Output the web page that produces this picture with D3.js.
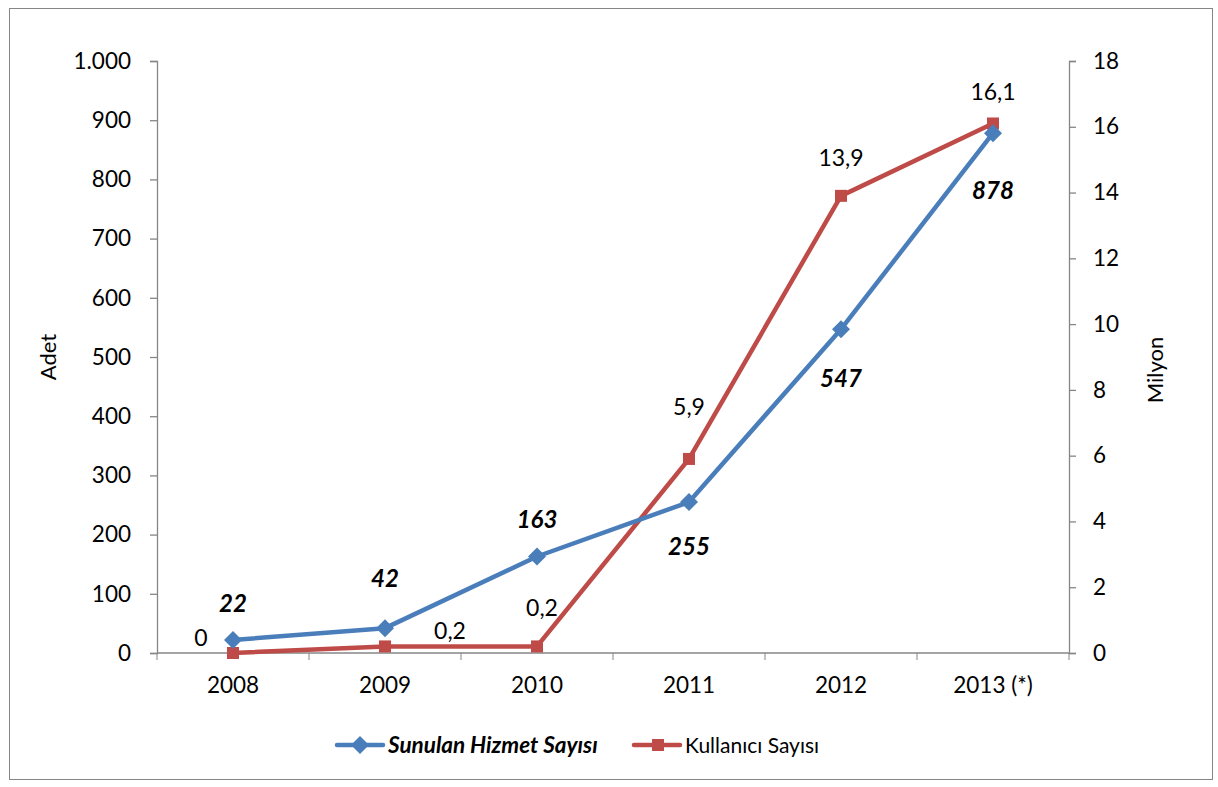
<!DOCTYPE html>
<html>
<head>
<meta charset="utf-8">
<script src="https://cdn.jsdelivr.net/npm/d3@7"></script>
<style>
  body { margin: 0; background: #fff; }
  svg text { font-family: "Lato", "Open Sans", sans-serif; fill: #000; }
</style>
</head>
<body>
<svg id="chart" width="1218" height="787"></svg>
<script>
// Years shown on the category axis
const years = ["2008", "2009", "2010", "2011", "2012", "2013 (*)"];
// Number of services offered (left axis, units)
const serviceCounts = [22, 42, 163, 255, 547, 878];
// Number of users (right axis, millions)
const userCounts = [0, 0.2, 0.2, 5.9, 13.9, 16.1];
const userLabels = ["0", "0,2", "0,2", "5,9", "13,9", "16,1"];
// Axis ticks
const leftTicks = [0, 100, 200, 300, 400, 500, 600, 700, 800, 900, 1000];
const rightTicks = [0, 2, 4, 6, 8, 10, 12, 14, 16, 18];

const svg = d3.select("#chart");
const blue = "#4A7EBB", red = "#BE4B48", axisCol = "#868686";

const plot = { left: 157, right: 1069, top: 61, bottom: 653 };

// Outer frame
svg.append("rect").attr("x", 9.5).attr("y", 8.5).attr("width", 1203).attr("height", 771)
  .attr("fill", "none").attr("stroke", axisCol).attr("stroke-width", 1);

const x = d3.scaleBand().domain(years).range([plot.left, plot.right]).padding(0);
const yL = d3.scaleLinear().domain([0, 1000]).range([plot.bottom, plot.top]);
const yR = d3.scaleLinear().domain([0, 18]).range([plot.bottom, plot.top]);
const cx = d => x(d) + x.bandwidth() / 2;

const fmtThousands = d => d >= 1000 ? d3.format(",")(d).replace(/,/g, ".") : String(d);

// Left axis
const gL = svg.append("g").attr("transform", `translate(${plot.left},0)`)
  .call(d3.axisLeft(yL).tickValues(leftTicks).tickFormat(fmtThousands).tickSize(7).tickPadding(19));
// Right axis
const gR = svg.append("g").attr("transform", `translate(${plot.right},0)`)
  .call(d3.axisRight(yR).tickValues(rightTicks).tickSize(7).tickPadding(17));
// Category axis with ticks on the band boundaries
const gX = svg.append("g").attr("transform", `translate(0,${plot.bottom})`)
  .call(d3.axisBottom(x).tickSize(0).tickPadding(24));
const bounds = years.map(d => x(d)).concat([plot.right]);
gX.selectAll(".bound").data(bounds).enter().append("line")
  .attr("x1", d => d).attr("x2", d => d).attr("y1", 0).attr("y2", 7)
  .attr("stroke", axisCol);

[gL, gR, gX].forEach(g => {
  g.select(".domain").attr("stroke", axisCol).attr("stroke-width", 1.3);
  g.selectAll(".tick line").attr("stroke", axisCol).attr("stroke-width", 1.3);
  g.selectAll("text").style("font-family", "Lato, 'Open Sans', sans-serif")
    .style("font-size", "22.5px").attr("fill", "#000");
});
gX.select(".domain").attr("d", `M${plot.left},0H${plot.right}`);

// Axis titles
svg.append("text").attr("transform", `translate(56,357) rotate(-90)`)
  .attr("text-anchor", "middle").style("font-size", "22px").text("Adet");
svg.append("text").attr("transform", `translate(1163,370) rotate(-90)`)
  .attr("text-anchor", "middle").style("font-size", "22px").text("Milyon");

// Users line (right axis)
const lineR = d3.line().x((d, i) => cx(years[i])).y(d => yR(d));
svg.append("path").datum(userCounts).attr("d", lineR)
  .attr("fill", "none").attr("stroke", red).attr("stroke-width", 4.5).attr("stroke-linejoin", "round");
svg.selectAll(".sq").data(userCounts).enter().append("rect")
  .attr("x", (d, i) => cx(years[i]) - 6).attr("y", d => yR(d) - 6)
  .attr("width", 12).attr("height", 12).attr("fill", red);

// Services line (left axis)
const lineL = d3.line().x((d, i) => cx(years[i])).y(d => yL(d));
svg.append("path").datum(serviceCounts).attr("d", lineL)
  .attr("fill", "none").attr("stroke", blue).attr("stroke-width", 4.5).attr("stroke-linejoin", "round");
const diamond = "M0,-9L9,0L0,9L-9,0Z";
svg.selectAll(".dm").data(serviceCounts).enter().append("path")
  .attr("d", diamond)
  .attr("transform", (d, i) => `translate(${cx(years[i])},${yL(d)})`)
  .attr("fill", blue);

// Service value labels: above for the first three, below afterwards
const blueOff = [[0, -28], [0, -41], [0, -29], [0, 53], [0, 58], [0, 66]];
svg.selectAll(".lb").data(serviceCounts).enter().append("text")
  .attr("x", (d, i) => cx(years[i]) + blueOff[i][0])
  .attr("y", (d, i) => yL(d) + blueOff[i][1])
  .attr("text-anchor", "middle")
  .style("font-size", "24px").style("font-weight", "bold").style("font-style", "italic")
  .text(d => d);

// User value labels
const redOff = [[-32, -7], [65, -7], [5, -30], [0, -44], [0, -30], [0, -23]];
svg.selectAll(".lr").data(userCounts).enter().append("text")
  .attr("x", (d, i) => cx(years[i]) + redOff[i][0])
  .attr("y", (d, i) => yR(d) + redOff[i][1])
  .attr("text-anchor", "middle")
  .style("font-size", "23px")
  .text((d, i) => userLabels[i]);

// Legend
const lg = svg.append("g");
lg.append("line").attr("x1", 337).attr("x2", 383).attr("y1", 745).attr("y2", 745)
  .attr("stroke", blue).attr("stroke-width", 4.5).attr("stroke-linecap", "round");
lg.append("path").attr("d", diamond).attr("transform", "translate(360,745)").attr("fill", blue);
lg.append("text").attr("x", 388).attr("y", 753).style("font-size", "22.5px")
  .style("font-weight", "bold").style("font-style", "italic").text("Sunulan Hizmet Sayısı");
lg.append("line").attr("x1", 634).attr("x2", 680).attr("y1", 745).attr("y2", 745)
  .attr("stroke", red).attr("stroke-width", 4.5).attr("stroke-linecap", "round");
lg.append("rect").attr("x", 652).attr("y", 739).attr("width", 12).attr("height", 12).attr("fill", red);
lg.append("text").attr("x", 685).attr("y", 753).style("font-size", "21px").text("Kullanıcı Sayısı");
</script>
</body>
</html>
